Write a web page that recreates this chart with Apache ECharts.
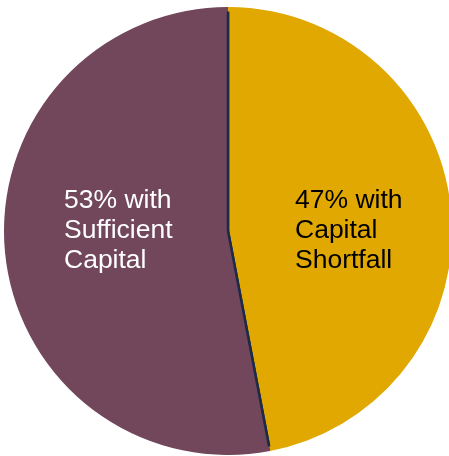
<!DOCTYPE html>
<html>
<head>
<meta charset="utf-8">
<script src="https://cdn.jsdelivr.net/npm/echarts@6/dist/echarts.min.js"></script>
<style>html,body{margin:0;padding:0;background:#fff;}#c{width:449px;height:456px;}</style>
</head>
<body>
<div id="c"></div>
<script>
const categories = ['47% with\nCapital\nShortfall', '53% with\nSufficient\nCapital'];
const values = [47, 53];
const colors = ['#e0a800', '#72475b'];
const labelColors = ['#000000', '#ffffff'];

const data = categories.map((c, i) => ({
  name: c, value: values[i],
  itemStyle: { color: colors[i] },
  label: { color: labelColors[i] }
}));
const labelPos = [{ x: 295, y: 231 }, { x: 64, y: 231 }];

const chart = echarts.init(document.getElementById('c'), null, { renderer: 'canvas' });
chart.setOption({
  animation: false,
  series: [
    {
      type: 'pie',
      center: [228, 231],
      radius: [0, 222],
      startAngle: 90,
      clockwise: true,
      data: data,
      itemStyle: { borderColor: '#1c2a4a', borderWidth: 2.5 },
      label: {
        show: true,
        position: 'inside',
        formatter: '{b}',
        fontFamily: 'Liberation Sans, Arial, sans-serif',
        fontSize: 26.5,
        lineHeight: 30,
        align: 'left',
        verticalAlign: 'middle'
      },
      labelLine: { show: false },
      labelLayout: function (p) {
        return { x: labelPos[p.dataIndex].x, y: labelPos[p.dataIndex].y, align: 'left', verticalAlign: 'middle' };
      },
      emphasis: { disabled: true },
      silent: true,
      z: 1
    },
    {
      type: 'pie',
      center: [228, 231],
      radius: [219.5, 224],
      startAngle: 90,
      clockwise: true,
      data: categories.map((c, i) => ({ name: c, value: values[i], itemStyle: { color: colors[i] } })),
      itemStyle: { borderWidth: 0 },
      label: { show: false },
      labelLine: { show: false },
      emphasis: { disabled: true },
      silent: true,
      z: 2
    }
  ]
});
</script>
</body>
</html>
